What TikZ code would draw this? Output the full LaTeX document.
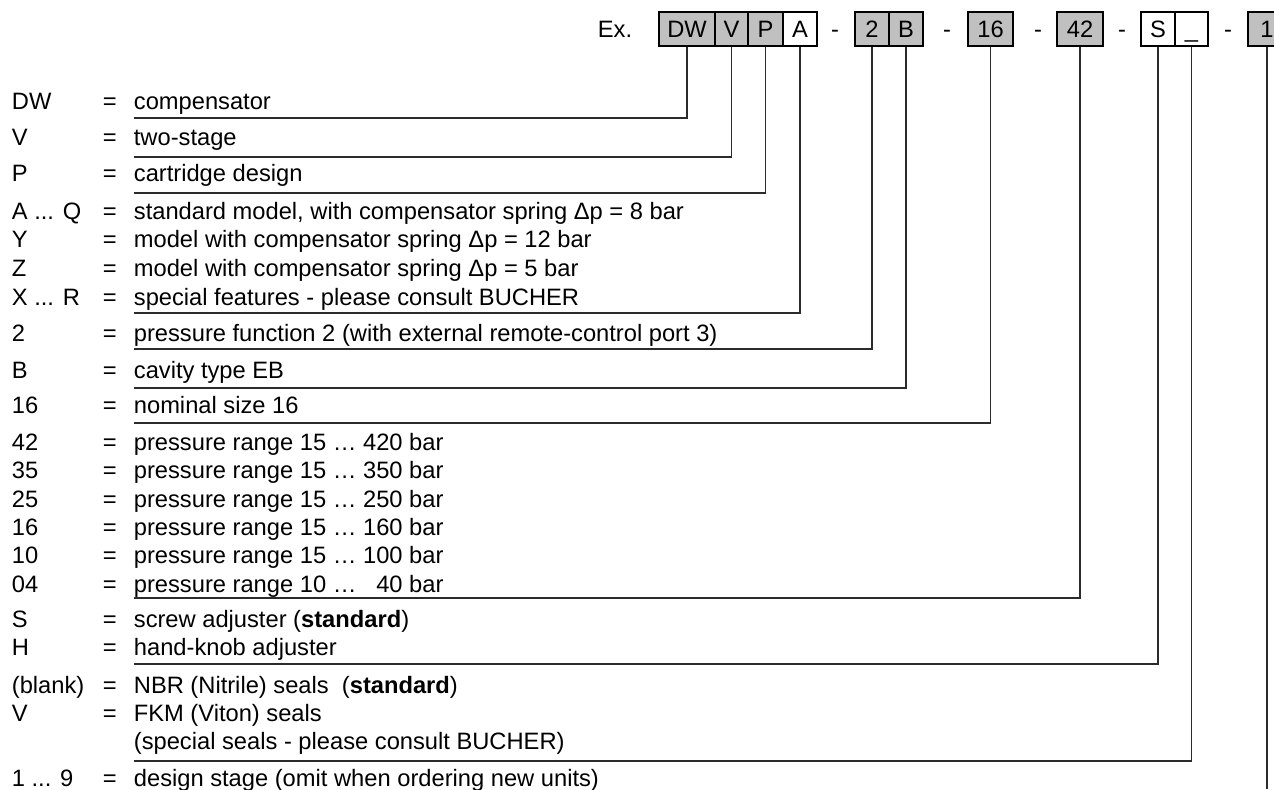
\documentclass[tikz,border=0pt]{standalone}
\usepackage{fontspec}
\setmainfont{Liberation Sans}
\usetikzlibrary{positioning}
\definecolor{cfill}{HTML}{C0C0C0}
\definecolor{cline}{HTML}{2B2B2B}
\tikzset{
  every picture/.style={font=\fontsize{11.85}{14}\selectfont, line width=0.9pt},
  code/.style={draw=black, fill=#1, line width=0.7pt, inner sep=0pt, minimum height=17pt, text height=8.48pt, text depth=0pt},
  code/.default=cfill,
  lead/.style={draw=cline, line width=0.95pt},
  txt/.style={anchor=base west, inner sep=0pt},
}

\begin{document}
\begin{tikzpicture}[x=0.5pt, y=-0.5pt]
  \useasboundingbox (0,0) rectangle (1274,789);
  % ordering code
  \node[txt] (ex) at (597,37) {Ex.};
  \foreach \n/\t/\xa/\xb/\c in {DW/DW/659/715/cfill, V/V/715/748/cfill, P/P/748/783/cfill, A/A/783/817/white, two/2/855/889/cfill, B/B/889/923/cfill, sixteen/16/968/1013/cfill, fortytwo/42/1057/1103/cfill, S/S/1141/1175/white, seal/\_/1175/1208/white, one/1/1248/1286/cfill} {
    \node[code=\c, minimum width={(\xb-\xa)*0.5pt}] (b\n) at ({(\xa+\xb)/2},29) {\t};
  }
  \foreach \x [count=\i] in {835,947,1038,1122,1228}
    \node[anchor=base, inner sep=0pt] (h\i) at (\x,37) {-};
  % key list
  \foreach \k/\d/\y [count=\i] in {DW/compensator/109, V/two-stage/145, P/cartridge design/181,
      {A ... Q}/{standard model, with compensator spring Δp = 8 bar}/219,
      Y/{model with compensator spring Δp = 12 bar}/247,
      Z/{model with compensator spring Δp = 5 bar}/276,
      {X ... R}/{special features - please consult BUCHER}/305,
      2/{pressure function 2 (with external remote-control port 3)}/341,
      B/{cavity type EB}/378, 16/{nominal size 16}/413,
      42/{pressure range 15 … 420 bar}/450, 35/{pressure range 15 … 350 bar}/478,
      25/{pressure range 15 … 250 bar}/507, 16/{pressure range 15 … 160 bar}/535,
      10/{pressure range 15 … 100 bar}/563, 04/{pressure range 10 … \hphantom{4}40 bar}/592,
      S/{screw adjuster (\textbf{standard})}/627, H/{hand-knob adjuster}/655,
      {(blank)}/{NBR (Nitrile) seals\ \ (\textbf{standard})}/693, V/{FKM (Viton) seals}/721,
      {1 ... 9}/{design stage (omit when ordering new units)}/786} {
    \node[txt] (k\i) at (11,\y) {\k};
    \node[txt] (q\i) at (102,\y) {=};
    \node[txt] (d\i) at (133,\y) {\d};
  }
  \node[txt] (d20b) at (133,749) {(special seals - please consult BUCHER)};
  % leader lines
  \foreach \n/\y in {DW/118, V/157, P/193, A/313, two/349, B/388, sixteen/423, fortytwo/598, S/664, seal/761} {
    \coordinate (e\n) at (134,\y);
    \draw[lead] (b\n.south) |- (e\n);
  }
  \coordinate (eone) at (bone.south |- 0,789);
  \draw[lead] (bone.south) -- (eone);
\end{tikzpicture}
\end{document}
